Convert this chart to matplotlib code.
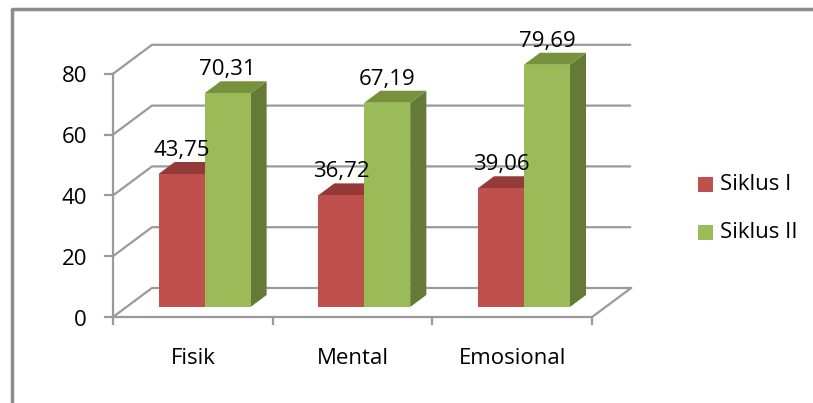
import matplotlib
matplotlib.use("Agg")
import matplotlib.pyplot as plt
from matplotlib.patches import Polygon, Rectangle
import numpy as np

plt.rcParams['font.family'] = ['Open Sans', 'DejaVu Sans']

categories = ["Fisik", "Mental", "Emosional"]
series_names = ["Siklus I", "Siklus II"]
siklus1 = [43.75, 36.72, 39.06]
siklus2 = [70.31, 67.19, 79.69]
y_ticks = [0, 20, 40, 60, 80]

face_cols = ["#C0504D", "#9BBB59"]
top_cols = ["#943A38", "#77923C"]
side_cols = ["#7F2F2D", "#667A37"]
grid_col = "#9A9A9A"
FS = 16

W, H = 813, 403
fig = plt.figure(figsize=(W / 100, H / 100), dpi=100)
ax = fig.add_axes([0, 0, 1, 1])

# pixel mapping of front plane: x_px = X0 + CW*x ; y_px = Y0 - VS*v
X0, CW, Y0, VS = 113.0, 159.7, 317.0, 3.04
ax.set_xlim((0 - X0) / CW, (W - X0) / CW)
ax.set_ylim((Y0 - H) / VS, Y0 / VS)
ax.axis("off")

# depth vector (full depth) in data units
DX, DV = 39.0 / CW, 29.0 / VS
ncat = len(categories)
vmax = y_ticks[-1]

# walls gridlines
for t in y_ticks:
    ax.plot([0, DX, ncat + DX], [t, t + DV, t + DV], color=grid_col, lw=1.6,
            solid_capstyle="butt", zorder=1)
# floor front edge and right edge
ax.plot([0, ncat, ncat + DX], [0, 0, DV], color=grid_col, lw=1.6, zorder=1)
# vertical axis
ax.plot([0, 0], [0, vmax], color=grid_col, lw=1.6, zorder=1)
# y tick marks and labels
for t in y_ticks:
    ax.plot([-8 / CW, 0], [t, t], color=grid_col, lw=1.6, zorder=1)
    ax.text(-26 / CW, t - 3 / VS, str(t), ha="right", va="center", fontsize=FS, color="black")
# category ticks
for i in range(ncat + 1):
    ax.plot([i, i], [0, -7 / VS], color=grid_col, lw=1.6, zorder=1)
for i, c in enumerate(categories):
    ax.text(i + 0.5, -42 / VS, c, ha="center", va="center", fontsize=FS, color="black")

# bars
fa = 0.345
fb = fa + 12.0 / 29.0
bw = 46.0 / CW
start = 45.5 / CW  # left of red bar (at bar depth) from category start
for i in range(ncat):
    for s, vals in enumerate([siklus1, siklus2]):
        v = vals[i]
        xl = i + start + s * bw
        xr = xl + bw
        fv0 = fa * DV
        bdx = (fb - fa) * DX
        bdv = (fb - fa) * DV
        # side face
        ax.add_patch(Polygon([(xr, fv0), (xr + bdx, fv0 + bdv), (xr + bdx, fv0 + v + bdv),
                              (xr, fv0 + v)], closed=True, fc=side_cols[s], ec="none",
                             zorder=2 + s))
        # top face
        ax.add_patch(Polygon([(xl, fv0 + v), (xr, fv0 + v), (xr + bdx, fv0 + v + bdv),
                              (xl + bdx, fv0 + v + bdv)], closed=True, fc=top_cols[s],
                             ec="none", zorder=2 + s))
        # front face
        ax.add_patch(Rectangle((xl, fv0), bw, v, fc=face_cols[s], ec="none", zorder=2 + s))
        # value label
        lbl = f"{v:.2f}".replace(".", ",")
        ax.text(xl + bw / 2, fv0 + v + bdv + 3.8, lbl, ha="center", va="center",
                fontsize=FS, color="black", zorder=5)

# legend
leg_y = [184, 232]
for s, name in enumerate(series_names):
    px, py = 698, leg_y[s]
    ax.add_patch(Rectangle(((px - X0) / CW, (Y0 - py - 7.5) / VS), 15 / CW, 15 / VS,
                           fc=face_cols[s], ec="none"))
    ax.text((px + 22 - X0) / CW, (Y0 - py) / VS, name, ha="left", va="center",
            fontsize=FS, color="black")

# outer border (left and top visible)
ax.plot([(12 - X0) / CW, (12 - X0) / CW, (W + 5 - X0) / CW],
        [(Y0 - H - 5) / VS, (Y0 - 9) / VS, (Y0 - 9) / VS],
        color="#8C8C8C", lw=2.5, clip_on=False)

fig.savefig("out.png", dpi=100)
